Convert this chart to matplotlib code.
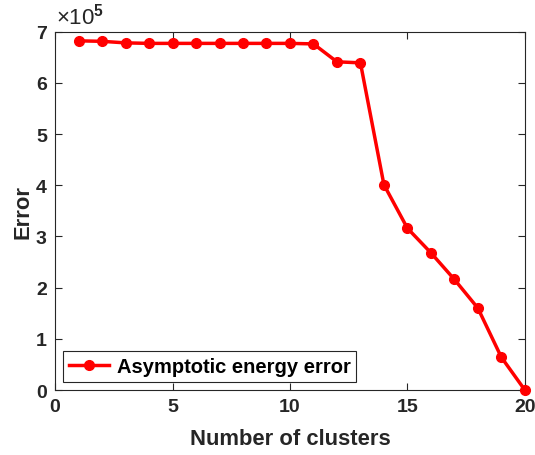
import matplotlib
matplotlib.use("Agg")
import matplotlib.pyplot as plt

plt.rcParams['font.family'] = ['Liberation Sans', 'DejaVu Sans']
plt.rcParams['font.weight'] = 'bold'
plt.rcParams['mathtext.fontset'] = 'custom'
plt.rcParams['mathtext.rm'] = 'Liberation Sans'
plt.rcParams['mathtext.bf'] = 'Liberation Sans:bold'

# data (error in units of 1e5)
clusters = list(range(1, 21))
error = [6.82, 6.81, 6.78, 6.77, 6.77, 6.77, 6.77, 6.77, 6.77, 6.77,
         6.76, 6.41, 6.39, 4.01, 3.16, 2.68, 2.16, 1.60, 0.64, 0.0]

txt = '#262626'
axc = '#262626'

fig = plt.figure(figsize=(5.35, 4.56), dpi=100)
ax = fig.add_axes([0.103, 0.1425, 0.878, 0.786])
ax.plot(clusters, error, color='red', linewidth=2.5, marker='o', markersize=7,
        label='Asymptotic energy error', clip_on=False, zorder=3)

ax.set_xlim(0, 20)
ax.set_ylim(0, 7)
ax.set_xticks([0, 5, 10, 15, 20])
ax.set_yticks(range(0, 8))
ax.tick_params(direction='in', top=True, right=True, length=5, width=0.8,
               colors=axc, labelsize=14, labelcolor=txt, pad=6)
for lbl in ax.get_xticklabels() + ax.get_yticklabels():
    lbl.set_fontweight('bold')
for s in ax.spines.values():
    s.set_color(axc)
    s.set_linewidth(0.8)

ax.set_xlabel('Number of clusters', fontsize=15.8, fontweight='bold', color=txt, labelpad=9)
ax.set_ylabel('Error', fontsize=15.8, fontweight='bold', color=txt, labelpad=2)
ax.text(0.002, 1.008, '\u00d710$^{5}$', transform=ax.transAxes, fontsize=16,
        color=txt, ha='left', va='bottom', fontweight='normal')

leg = ax.legend(loc='lower left', prop={'weight': 'bold', 'size': 14.5},
                fancybox=False, framealpha=1, edgecolor='#262626',
                borderaxespad=0.4, handlelength=2.0, handletextpad=0.35,
                borderpad=0.3)
leg.get_frame().set_linewidth(0.8)
for t in leg.get_texts():
    t.set_color('black')

fig.savefig('out.png', dpi=100)
